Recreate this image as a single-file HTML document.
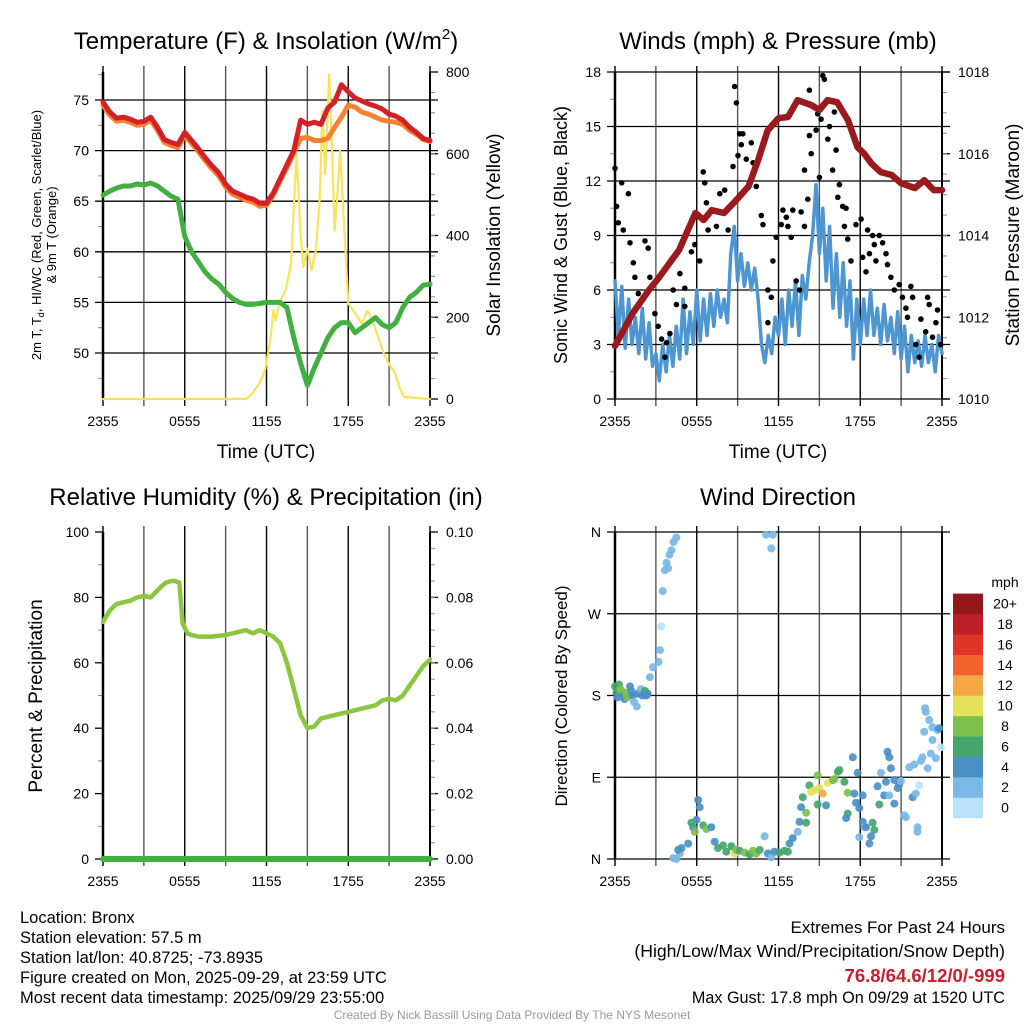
<!DOCTYPE html>
<html><head><meta charset="utf-8"><style>
html,body{margin:0;padding:0;background:#fff}
svg{display:block;font-family:"Liberation Sans",sans-serif}
</style></head><body>
<svg id="chart" width="1024" height="1024" viewBox="0 0 1024 1024" xmlns="http://www.w3.org/2000/svg">
<g id="texts">
<text x="266" y="49" font-size="24" text-anchor="middle">Temperature (F) &amp; Insolation (W/m<tspan font-size="15" dy="-10">2</tspan><tspan dy="10">)</tspan></text>
<text x="778" y="49" font-size="24" text-anchor="middle">Winds (mph) &amp; Pressure (mb)</text>
<text x="266" y="505" font-size="24" text-anchor="middle">Relative Humidity (%) &amp; Precipitation (in)</text>
<text x="778" y="505" font-size="24" text-anchor="middle">Wind Direction</text>
<text x="266" y="458" font-size="19" text-anchor="middle">Time (UTC)</text>
<text x="778" y="458" font-size="19" text-anchor="middle">Time (UTC)</text>
<text transform="translate(41,235) rotate(-90)" font-size="13" text-anchor="middle">2m T, T<tspan font-size="9" dy="3">d</tspan><tspan dy="-3">, HI/WC (Red, Green, Scarlet/Blue)</tspan></text>
<text transform="translate(56,235) rotate(-90)" font-size="13" text-anchor="middle">&amp; 9m T (Orange)</text>
<text transform="translate(500,235) rotate(-90)" font-size="19" text-anchor="middle">Solar Insolation (Yellow)</text>
<text transform="translate(567,235) rotate(-90)" font-size="18" text-anchor="middle">Sonic Wind &amp; Gust (Blue, Black)</text>
<text transform="translate(1019,235) rotate(-90)" font-size="19" text-anchor="middle">Station Pressure (Maroon)</text>
<text transform="translate(42,696) rotate(-90)" font-size="19" text-anchor="middle">Percent &amp; Precipitation</text>
<text transform="translate(567,696) rotate(-90)" font-size="17" text-anchor="middle">Direction (Colored By Speed)</text>
<text x="20" y="923" font-size="16.5">Location: Bronx</text>
<text x="20" y="943" font-size="16.5">Station elevation: 57.5 m</text>
<text x="20" y="963" font-size="16.5">Station lat/lon: 40.8725; -73.8935</text>
<text x="20" y="983" font-size="16.5">Figure created on Mon, 2025-09-29, at 23:59 UTC</text>
<text x="20" y="1003" font-size="16.5">Most recent data timestamp: 2025/09/29 23:55:00</text>
<text x="1005" y="933" font-size="17" text-anchor="end">Extremes For Past 24 Hours</text>
<text x="1005" y="957" font-size="17.6" text-anchor="end">(High/Low/Max Wind/Precipitation/Snow Depth)</text>
<text x="1005" y="982" font-size="18.5" font-weight="bold" fill="#c8202a" text-anchor="end">76.8/64.6/12/0/-999</text>
<text x="1005" y="1003" font-size="16.2" text-anchor="end">Max Gust: 17.8 mph On 09/29 at 1520 UTC</text>
<text x="512" y="1019" font-size="12" fill="#999" text-anchor="middle">Created By Nick Bassill Using Data Provided By The NYS Mesonet</text>
<text x="1005" y="587" font-size="14" text-anchor="middle">mph</text>
</g>
</svg>
<script>
// ---- time axis
const timeTicks = ["2355","0555","1155","1755","2355"];
// ---- panel 1: temperature (half-hour samples, 0..24h)
const tempRed = [74.8,73.8,73.2,73.3,73.1,72.8,72.9,73.3,72.3,71.1,70.8,70.6,71.8,71.0,70.2,69.3,68.5,67.8,66.7,66.0,65.7,65.4,65.2,64.8,64.8,65.8,67.2,68.6,70.0,73.0,72.6,72.8,72.6,74.2,74.8,76.5,75.8,75.2,74.9,74.6,74.4,74.1,73.6,73.4,73.0,72.3,71.8,71.2,71.0];
const tempOrange = [74.5,73.5,72.9,73.0,72.8,72.5,72.6,73.0,72.0,70.8,70.5,70.3,71.5,70.7,69.9,69.0,68.2,67.5,66.4,65.7,65.4,65.1,64.9,64.5,64.6,65.6,67.0,68.3,69.8,71.2,71.3,71.0,71.0,71.2,72.3,73.3,74.5,74.3,73.8,73.6,73.3,73.0,72.9,72.8,72.6,72.0,71.6,71.1,70.9];
const dewGreen = [65.6,66.0,66.3,66.5,66.5,66.7,66.6,66.8,66.5,66.0,65.5,65.2,61.5,60.0,59.0,58.0,57.3,56.8,56.0,55.4,55.0,54.8,54.8,54.9,55.0,55.0,55.0,54.5,51.5,49.0,46.8,48.5,50.0,51.5,52.5,53.0,53.0,52.0,52.5,53.0,53.5,52.8,52.5,53.0,54.5,55.5,56.0,56.7,56.8];
const solarTime = [0,10.5,11.0,11.5,11.9,12.3,12.5,12.7,12.9,13.4,13.8,14.2,14.5,14.7,15.0,15.3,15.6,15.9,16.1,16.3,16.6,16.8,17.0,17.2,17.4,17.7,18.0,18.5,19.0,19.4,19.7,20.1,20.6,21.0,21.4,21.8,22.1,24];
const solarValue = [0,0,15,40,71,150,217,193,234,266,330,600,400,322,368,315,358,485,705,550,795,620,412,500,607,420,234,210,185,215,200,160,112,85,66,25,5,0];
const tempTicks = [50,55,60,65,70,75];
const solarTicks = [0,200,400,600,800];
// ---- panel 2: wind (quarter-hour samples)
const windSpeed = [6.5,3.5,6.2,2.8,5.5,3.0,4.5,2.5,5.0,2.2,4.2,1.8,2.5,1.0,3.0,1.5,3.5,1.8,4.0,2.2,5.5,2.5,4.8,3.0,6.0,3.2,5.5,3.5,5.8,4.0,6.0,4.5,5.5,4.2,8.0,9.5,6.5,8.0,6.2,7.5,6.0,7.2,5.5,3.0,2.0,3.5,2.5,4.5,3.5,5.5,3.0,6.0,4.0,6.5,3.5,6.8,5.5,7.5,9.0,11.8,8.0,10.5,6.5,9.5,5.0,8.0,4.5,7.5,4.0,6.5,2.2,5.5,3.0,5.5,3.5,6.0,3.5,5.0,3.0,5.2,3.2,4.5,2.5,4.8,2.2,4.0,1.5,3.5,2.0,3.2,1.8,3.5,2.0,3.0,1.5,3.5,2.5];
const gustTime = [0,0.12,0.24,0.49,0.61,0.98,1.1,1.34,1.46,1.71,2.2,2.44,2.56,2.93,3.17,3.42,3.66,3.78,4.03,4.27,4.51,4.76,5.12,5.12,5.61,5.86,6.22,6.47,6.59,6.71,6.83,7.44,7.69,8.05,8.3,8.66,8.78,8.91,9.03,9.15,9.27,9.39,9.64,10.0,10.13,10.37,10.74,10.86,11.22,11.47,11.22,11.59,11.83,12.2,12.32,12.57,12.69,12.93,13.05,13.3,13.54,13.66,13.91,13.91,14.15,14.27,14.4,14.27,14.76,14.88,15.0,15.25,15.37,15.13,15.62,15.74,15.98,16.1,16.23,16.35,16.47,16.71,16.96,16.84,17.08,17.32,17.69,18.06,18.18,18.42,18.54,18.91,19.03,18.67,19.15,19.4,19.64,19.89,20.0,20.25,20.5,20.86,21.1,21.35,21.72,21.47,21.84,22.08,22.33,22.45,22.8,22.94,23.06,23.3,23.55,23.67,23.9];
const gustValue = [12.7,10.6,9.7,11.9,9.3,11.3,8.6,7.5,6.7,5.8,8.7,8.3,6.7,4.7,4.0,3.3,2.3,3.1,3.6,6.0,5.2,6.9,6.1,5.1,8.1,8.5,7.6,12.5,11.9,10.8,9.3,9.5,11.3,11.5,9.3,12.8,17.2,16.3,13.4,14.6,14.0,14.6,13.2,14.1,13.0,11.7,10.1,9.6,6.0,5.6,4.2,7.6,8.9,9.6,10.4,10.0,9.5,8.9,10.4,6.5,6.0,10.3,9.5,12.6,11.0,14.5,13.5,17.0,14.8,15.7,12.2,17.8,17.6,15.4,14.3,15.0,12.6,15.8,13.7,11.1,11.8,10.6,10.5,9.5,8.8,7.6,9.6,9.9,7.8,7.0,9.3,9.0,8.5,8.0,7.6,9.0,8.6,8.0,7.4,6.7,6.0,6.3,5.6,5.0,6.2,4.5,5.6,3.0,2.3,4.4,3.7,5.6,5.2,3.4,4.2,4.9,3.0];
const pressTime = [0,1.3,2.5,3.2,4.7,5.9,6.5,7.1,8.0,9.0,9.8,10.5,11.2,12.0,12.7,13.4,14.4,15.0,15.6,16.3,17.1,17.8,18.3,18.8,19.5,20.3,21.0,22.0,22.7,23.4,24];
const pressValue = [1011.3,1012.1,1012.67,1012.96,1013.64,1014.55,1014.38,1014.62,1014.55,1014.9,1015.2,1015.84,1016.57,1016.87,1016.9,1017.31,1017.19,1017.07,1017.31,1017.26,1016.82,1016.16,1016.0,1015.77,1015.55,1015.48,1015.28,1015.16,1015.35,1015.11,1015.11];
const windTicks = [0,3,6,9,12,15,18];
const pressTicks = [1010,1012,1014,1016,1018];
// ---- panel 3: humidity
const rhTime = [0,0.5,1,1.5,2,2.5,3,3.5,4.2,4.6,5,5.3,5.6,5.85,6.2,6.5,7,8,9,10,10.5,11,11.5,12,12.5,13,13.5,14,14.5,15,15.5,16,16.5,17,17.5,18,19,20,20.5,21,21.5,22,22.5,23,23.5,24];
const rhValue = [72.5,76,78,78.5,79,80,80.5,80,83,84.5,85,85,84.5,72,69,68.5,68,68,68.5,69.5,70,69,70,69,68,66,60,52,44,40,40.5,43,43.5,44,44.5,45,46,47,48.5,49,48.5,50,53,56,59,61];
const precipValue = [0,0,0,0,0,0,0,0,0,0,0,0,0,0,0,0,0,0,0,0,0,0,0,0,0];
const rhTicks = [0,20,40,60,80,100];
const precipTicks = ["0.00","0.02","0.04","0.06","0.08","0.10"];
// ---- panel 4: direction
const dirTime = [0,0.1,0.2,0.3,0.4,0.5,0.6,0.7,0.8,0.9,1.1,1.2,1.3,1.4,1.6,1.7,1.9,2.0,2.2,2.3,2.4,2.56,2.8,3.2,3.3,3.4,3.5,3.66,3.78,3.9,4.0,4.15,4.3,4.5,4.27,4.5,4.76,4.88,4.64,5.37,5.73,5.98,6.1,6.22,5.61,5.86,6.47,6.71,7.07,7.32,7.56,7.93,8.17,8.54,8.78,8.9,9.15,9.52,9.88,10.13,10.37,10.62,10.98,11.22,11.47,11.71,12.07,12.44,12.69,12.81,13.05,13.42,13.54,11.1,11.59,11.47,13.66,13.78,14.03,14.03,14.27,14.4,14.64,14.88,15.0,15.25,14.88,15.49,15.62,16.0,16.1,16.35,16.47,16.84,17.08,17.08,16.96,17.57,17.69,17.45,17.81,17.93,18.18,18.18,18.3,17.93,18.42,18.67,18.91,19.03,18.79,19.27,19.4,19.52,19.89,20.0,20.13,20.25,19.76,20.13,20.5,20.5,20.74,20.86,20.98,21.23,21.35,21.84,22.08,22.2,22.2,22.33,21.6,21.96,22.45,22.57,22.94,23.18,23.3,23.55,23.67,23.3,22.69,23.06,22.81,22.76,23.79,23.91];
const dirDeg = [190,183,178,192,187,185,180,176,183,178,190,185,180,173,168,182,187,180,185,180,182,200,211,217,230,256,295,318,326,320,335,340,349,354,1,0,6,12,10,17,35,43,65,57,40,30,37,33,35,19,12,15,8,14,6,10,9,7,5,9,6,10,25,6,2,8,7,9,8,17,23,30,41,357,357,342,57,68,51,40,81,74,76,92,78,72,60,59,84,87,88,96,98,85,73,50,45,72,62,112,95,56,70,41,35,24,35,17,40,32,25,80,60,95,85,118,112,100,70,70,87,61,78,82,86,48,46,68,72,35,30,81,101,104,108,112,100,116,131,111,142,145,140,153,162,166,144,123];
const dirSpeed = [6,6,4,6,8,8,4,4,8,8,4,4,4,2,2,4,2,4,6,4,4,3,3,3,3,1,3,3,3,3,3,3,3,3,3,3,3,5,5,5,5,5,5,5,7,8,7,9,5,5,7,7,7,7,11,9,7,9,7,9,9,7,3,5,3,5,7,7,7,5,5,3,5,3,3,3,5,7,9,7,7,11,11,9,11,13,7,5,11,9,9,7,7,7,9,7,5,5,5,5,5,5,5,5,3,3,5,5,7,7,5,5,7,3,5,5,5,5,5,3,5,5,5,5,3,3,3,5,3,3,3,1,3,3,3,3,3,3,3,3,3,3,3,3,3,3,5,1];
const dirTicks = ["N","E","S","W","N"];
const speedLabels = ["0","2","4","6","8","10","12","14","16","18","20+"];
const speedColors = ["#b9e3f8","#7ab9e6","#4a8fc7","#45a66b","#7dc04b","#e5e05a","#f6a745","#f0632c","#df3429","#be1e26","#93161b"];

const NS="http://www.w3.org/2000/svg";
const svg=document.getElementById('chart');
function mk(tag,attrs,parent){const e=document.createElementNS(NS,tag);for(const k in attrs)e.setAttribute(k,attrs[k]);(parent||svg).appendChild(e);return e;}

const panels=[
 {key:'temperature',x0:103,x1:430,y0:72,y1:399,hgrid:true},
 {key:'winds',x0:615,x1:942,y0:72,y1:399,hgrid:true},
 {key:'humidity',x0:103,x1:430,y0:532,y1:859,hgrid:false},
 {key:'direction',x0:615,x1:942,y0:532,y1:859,hgrid:true}
];
function xs(p,h){return p.x0+h*(p.x1-p.x0)/24;}

const P1=panels[0],P2=panels[1],P3=panels[2],P4=panels[3];
const yTemp=v=>100+(75-v)*10.12;
const ySolar=w=>399-w*(327/800);
const yWind=v=>399-v*(327/18);
const yPress=p=>399-(p-1010)*(327/8);
const yRH=v=>859-v*3.27;
const yPrecip=v=>859-v*3270;
const yDir=d=>859-d*(327/360);

function frame(p,leftTicks,rightTicks,leftMinor,rightMinor){
  const g=mk('g',{});
  
  
  for(let h=0;h<=24;h+=3){
    const x=xs(p,h);
    const l=mk('line',{x1:x,x2:x,y1:p.y0-6,y2:p.y1+7,stroke:(h%6===0)?'#000':'#555','stroke-width':1.4},g);
    
    
  }
  leftTicks.forEach(t=>{
    const l=mk('line',{x1:p.x0-8,x2:p.hgrid?p.x1+8:p.x0,y1:t.y,y2:t.y,stroke:'#000','stroke-width':1.3},g);
    
    
    const tx=mk('text',{x:p.x0-14,y:t.y+5,'font-size':14,'text-anchor':'end'},g);
    tx.textContent=t.label;
    
    
  });
  (leftMinor||[]).forEach(y=>{mk('line',{x1:p.x0-5,x2:p.x0,y1:y,y2:y,stroke:'#888','stroke-width':1},g);});
  (rightTicks||[]).forEach(t=>{
    mk('line',{x1:p.x1,x2:p.x1+8,y1:t.y,y2:t.y,stroke:'#000','stroke-width':1.3},g);
    const tx=mk('text',{x:p.x1+16,y:t.y+5,'font-size':14},g);
    tx.textContent=t.label;
    
    
  });
  (rightMinor||[]).forEach(y=>{mk('line',{x1:p.x1,x2:p.x1+5,y1:y,y2:y,stroke:'#888','stroke-width':1},g);});
  if(!p.hgrid){mk('line',{x1:p.x0,x2:p.x1,y1:p.y1,y2:p.y1,stroke:'#000','stroke-width':1.4},g);}
  mk('line',{x1:p.x0,x2:p.x0,y1:p.y0,y2:p.y1,stroke:'#000','stroke-width':2.5},g);
  mk('line',{x1:p.x1,x2:p.x1,y1:p.y0,y2:p.y1,stroke:'#000','stroke-width':2},g);
  timeTicks.forEach((lab,i)=>{
    const tx=mk('text',{x:xs(p,i*6),y:p.y1+27,'font-size':14,'text-anchor':'middle'},g);
    tx.textContent=lab;
    
    
  });
}
const range=(a,b,s)=>{const r=[];for(let v=a;v<=b+1e-9;v+=s)r.push(v);return r;};
frame(P1,tempTicks.map(v=>({y:yTemp(v),label:v})),solarTicks.map(v=>({y:ySolar(v),label:v})),range(47.5,77.5,5).map(yTemp),range(100,700,200).map(ySolar).concat(range(50,750,50).map(ySolar)));
frame(P2,windTicks.map(v=>({y:yWind(v),label:v})),pressTicks.map(v=>({y:yPress(v),label:v})),range(1.5,16.5,3).map(yWind),range(1010.5,1017.5,0.5).map(yPress));
frame(P3,rhTicks.map(v=>({y:yRH(v),label:v})),precipTicks.map((l,i)=>({y:yPrecip(i*0.02),label:l})),range(10,90,20).map(yRH),range(0.005,0.095,0.005).map(yPrecip));
frame(P4,dirTicks.map((l,i)=>({y:yDir(i*90),label:l})),null,null,null);

function path(p,times,vals,yf,stroke,w,name){
  let d='';
  vals.forEach((v,i)=>{d+=(i?'L':'M')+xs(p,times[i]).toFixed(1)+','+yf(v).toFixed(1);});
  const e=mk('path',{d:d,fill:'none',stroke:stroke,'stroke-width':w,'stroke-linejoin':'round','stroke-linecap':'round'});
  
  
  return e;
}
const half=tempRed.map((_,i)=>i*0.5);
path(P1,solarTime,solarValue,ySolar,'#fde15a',2.2,'solar-insolation-line');
path(P1,half,tempOrange,yTemp,'#f58231',5,'temperature-9m-line');
path(P1,half,tempRed,yTemp,'#d42027',5,'temperature-2m-line');
path(P1,half,dewGreen,yTemp,'#41b040',5,'dewpoint-line');

const quarter=windSpeed.map((_,i)=>i*0.25);
path(P2,quarter,windSpeed,yWind,'#4d96d1',3.5,'wind-speed-line');
gustValue.forEach((v,i)=>{
  const c=mk('circle',{cx:xs(P2,gustTime[i]).toFixed(1),cy:yWind(v).toFixed(1),r:2.8,fill:'#000'});
  
  
});
path(P2,pressTime,pressValue,yPress,'#9b1a1d',6.5,'pressure-line');

path(P3,rhTime,rhValue,yRH,'#8cc63f',4.5,'relative-humidity-line');
path(P3,precipValue.map((_,i)=>i),precipValue,yPrecip,'#41b040',6,'precipitation-line');

dirDeg.forEach((d,i)=>{
  const idx=Math.min(10,Math.floor(dirSpeed[i]/2));
  const c=mk('circle',{cx:xs(P4,dirTime[i]).toFixed(1),cy:yDir(d).toFixed(1),r:4,fill:speedColors[idx],'fill-opacity':0.92});
  
  
});

const cb=mk('g',{});


speedLabels.forEach((lab,i)=>{
  const y=818-(i+1)*20.4;
  const r=mk('rect',{x:953,y:y,width:30,height:20.6,fill:speedColors[i]},cb);
  
  
  const t=mk('text',{x:1005,y:y+15,'font-size':14,'text-anchor':'middle'},cb);
  t.textContent=lab;
  
  
});
</script>
</body></html>
